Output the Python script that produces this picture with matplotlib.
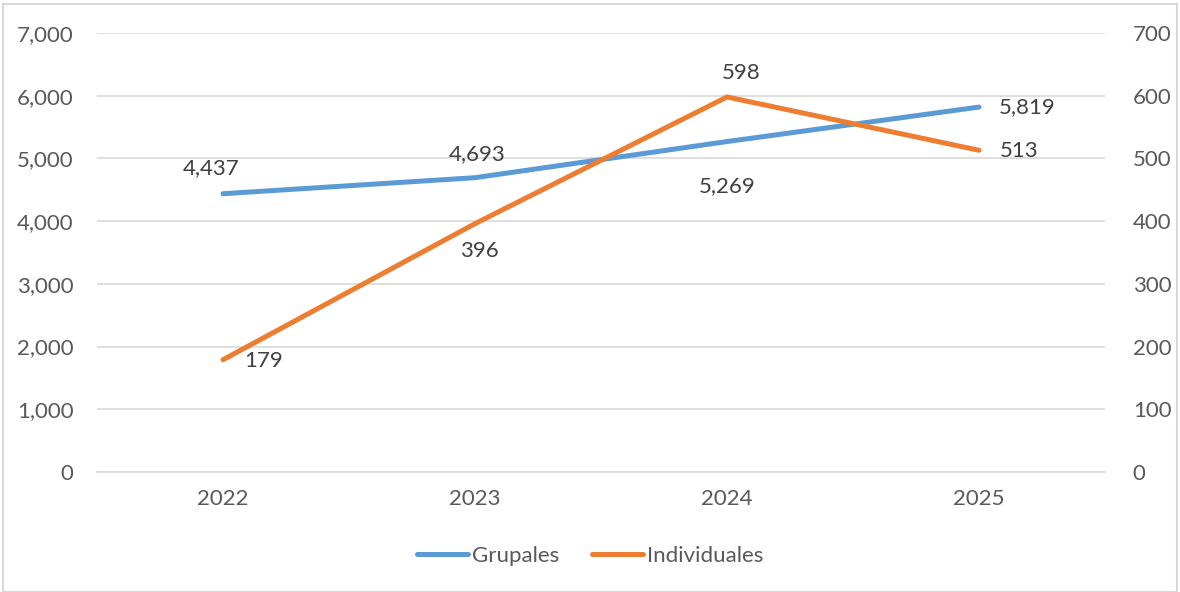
import matplotlib
matplotlib.use("Agg")
import matplotlib.pyplot as plt
from matplotlib.patches import Rectangle

plt.rcParams['font.family'] = ['Lato', 'DejaVu Sans']

years = ['2022', '2023', '2024', '2025']
grupales = [4437, 4693, 5269, 5819]
individuales = [179, 396, 598, 513]

# label offsets in pixels (dx, dy) relative to each point
grup_off = [(-12, 26), (2, 24), (0, -45), (48, 0)]
indiv_off = [(41, -1), (4, -27), (14, 24), (40, -1)]

blue = '#5B9BD5'
orange = '#ED7D31'
txt = '#595959'
fs = 16

fig = plt.figure(figsize=(11.8, 5.92), dpi=100)
ax = fig.add_axes([97/1180, 1 - 472/592, (1105 - 97)/1180, (472 - 33)/592])
ax2 = ax.twinx()

x = range(len(years))
ax.plot(x, grupales, color=blue, lw=3.6, solid_capstyle='round', label='Grupales', zorder=3)
ax2.plot(x, individuales, color=orange, lw=3.6, solid_capstyle='round', label='Individuales', zorder=3)

for i, v in enumerate(grupales):
    ax.annotate(f'{v:,}', (i, v), xytext=grup_off[i], textcoords='offset pixels',
                ha='center', va='center', fontsize=fs, color='#404040')
for i, v in enumerate(individuales):
    ax2.annotate(f'{v:,}', (i, v), xytext=indiv_off[i], textcoords='offset pixels',
                 ha='center', va='center', fontsize=fs, color='#404040')

ax.set_xlim(-0.5, 3.5)
ax.set_ylim(0, 7000)
ax2.set_ylim(0, 700)
ax.set_yticks(range(0, 7001, 1000))
ax2.set_yticks(range(0, 701, 100))
ax.set_yticklabels([f'{v:,}' for v in range(0, 7001, 1000)])
ax.set_xticks(list(x))
ax.set_xticklabels(years)

ax.grid(axis='y', color='#D9D9D9', lw=1.2)
ax.set_axisbelow(True)
for a in (ax, ax2):
    for s in a.spines.values():
        s.set_visible(False)
    a.tick_params(length=0, labelsize=fs, colors=txt)
ax.spines['bottom'].set_visible(True)
ax.spines['bottom'].set_color('#D9D9D9')
ax.spines['bottom'].set_linewidth(1.2)
ax.tick_params(axis='y', pad=17)
ax2.tick_params(axis='y', pad=20)
ax.tick_params(axis='x', pad=12)

h1, l1 = ax.get_legend_handles_labels()
h2, l2 = ax2.get_legend_handles_labels()
fig.legend(h1 + h2, l1 + l2, loc='center', bbox_to_anchor=(0.5, 1 - 556/592), ncol=2,
           frameon=False, fontsize=fs, labelcolor=txt, handlelength=2.3,
           handletextpad=0.2, columnspacing=1.45)

fig.patches.append(Rectangle((3/1180, 0.0), 1 - 6/1180, 1 - 4/592, transform=fig.transFigure,
                             fill=False, edgecolor='#D9D9D9', lw=1.5))

fig.savefig('out.png', dpi=100)
